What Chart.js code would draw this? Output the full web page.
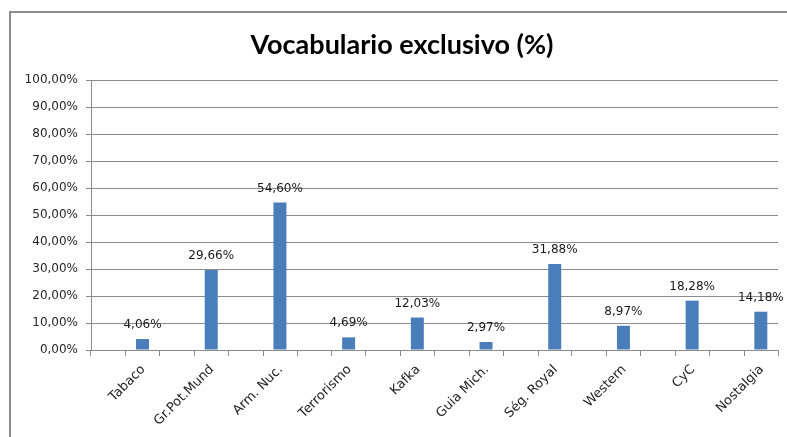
<!DOCTYPE html>
<html>
<head>
<meta charset="utf-8">
<script src="https://cdn.jsdelivr.net/npm/chart.js@4.4.1/dist/chart.umd.min.js"></script>
<style>
  html, body { margin: 0; padding: 0; background: #fff; }
  #wrap { position: relative; width: 787px; height: 437px; overflow: hidden; }
  #frame { position: absolute; left: 9px; top: 11px; width: 900px; height: 600px;
           border-left: 2px solid #8c8c8c; border-top: 2px solid #8c8c8c; box-sizing: border-box; }
  canvas { position: absolute; left: 0; top: 0; }
  #title { position: absolute; left: 0; top: 28px; width: 804px; text-align: center;
           font: bold 27px Lato, sans-serif; line-height: 32px; color: #000; z-index: 2; }
</style>
</head>
<body>
<div id="wrap">
  <div id="frame"></div>
  <canvas id="c" width="787" height="437"></canvas>
  <div id="title"></div>
</div>
<script>
const categories = ["Tabaco", "Gr.Pot.Mund", "Arm. Nuc.", "Terrorismo", "Kafka", "Guia Mich.", "Ség. Royal", "Western", "CyC", "Nostalgia"];
const values = [4.06, 29.66, 54.60, 4.69, 12.03, 2.97, 31.88, 8.97, 18.28, 14.18];
// empty first series (as in the original spreadsheet chart), which pushes the bars to the right half
const emptySeries = [null, null, null, null, null, null, null, null, null, null];
const yTicks = [0, 10, 20, 30, 40, 50, 60, 70, 80, 90, 100];
const titleText = "Vocabulario exclusivo (%)";

document.getElementById('title').textContent = titleText;

const fmt = v => v.toFixed(2).replace('.', ',') + '%';

const labelPlugin = {
  id: 'barLabels',
  afterDatasetsDraw(chart) {
    const ctx = chart.ctx;
    const meta = chart.getDatasetMeta(1);
    ctx.save();
    ctx.font = '12px "DejaVu Sans"';
    ctx.fillStyle = '#1a1a1a';
    ctx.textAlign = 'center';
    ctx.textBaseline = 'bottom';
    meta.data.forEach((bar, i) => {
      ctx.fillText(fmt(values[i]), bar.x, bar.y - 8);
    });
    ctx.restore();
  }
};

// extra tick marks at category centres (the axis also has ticks at category boundaries)
const midTicks = {
  id: 'midTicks',
  afterDraw(chart) {
    const sx = chart.scales.x;
    const ctx = chart.ctx;
    ctx.save();
    ctx.strokeStyle = '#8c8c8c';
    ctx.lineWidth = 1;
    ctx.beginPath();
    for (let i = 0; i < categories.length; i++) {
      const px = Math.round(sx.getPixelForTick(i)) + 0.5;
      ctx.moveTo(px, sx.top);
      ctx.lineTo(px, sx.top + 6);
    }
    ctx.stroke();
    ctx.restore();
  }
};

new Chart(document.getElementById('c'), {
  type: 'bar',
  data: {
    labels: categories,
    datasets: [
      { data: emptySeries, backgroundColor: '#4a7ebb', borderWidth: 0, barPercentage: 0.378, categoryPercentage: 1.0 },
      { data: values, backgroundColor: '#4a7ebb', borderWidth: 0, barPercentage: 0.378, categoryPercentage: 1.0 }
    ]
  },
  options: {
    responsive: false,
    animation: false,
    devicePixelRatio: 1,
    layout: { padding: { left: 0, right: 9, top: 80, bottom: 0 } },
    plugins: {
      legend: { display: false },
      tooltip: { enabled: false },
      title: { display: false }
    },
    scales: {
      x: {
        grid: { display: true, drawOnChartArea: false, offset: true, tickLength: 6, color: '#8c8c8c' },
        border: { display: true, color: '#8c8c8c' },
        ticks: {
          color: '#262626',
          font: { family: 'DejaVu Sans', size: 13 },
          maxRotation: 45, minRotation: 45,
          autoSkip: false,
          padding: 6,
          labelOffset: 18
        },
        afterFit(scale) { scale.height = 87; }
      },
      y: {
        min: 0, max: 100,
        afterBuildTicks(scale) { scale.ticks = yTicks.map(v => ({ value: v })); },
        grid: { color: '#8c8c8c', tickLength: 5 },
        border: { display: true, color: '#8c8c8c' },
        ticks: {
          color: '#262626',
          font: { family: 'DejaVu Sans', size: 12 },
          padding: 8,
          callback: v => fmt(v)
        },
        afterFit(scale) { scale.width = 91; }
      }
    }
  },
  plugins: [labelPlugin, midTicks]
});
</script>
</body>
</html>
